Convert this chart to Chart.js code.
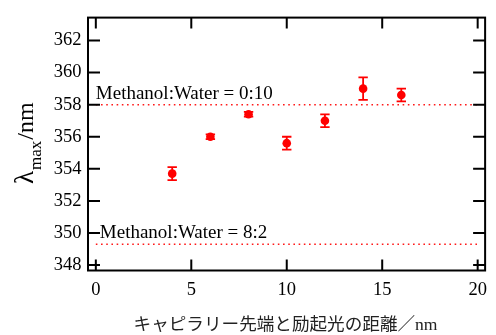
<!DOCTYPE html>
<html><head><meta charset="utf-8">
<script src="https://cdn.jsdelivr.net/npm/chart.js@4.4.0/dist/chart.umd.min.js"></script>
<style>html,body{margin:0;padding:0;background:#fff;overflow:hidden}#wrap{position:relative;width:496px;height:335px}</style>
</head><body><div id="wrap"><canvas id="c" width="496" height="335"></canvas></div>
<script>
const distances = [4, 6, 8, 10, 12, 14, 16];
const lambdaMax = [353.7, 356.0, 357.4, 355.6, 357.0, 359.0, 358.6];
const lambdaErr = [0.4, 0.15, 0.15, 0.4, 0.4, 0.7, 0.4];
const refValues = [358.0, 349.3];
const refLabels = ['Methanol:Water = 0:10', 'Methanol:Water = 8:2'];
const refRange = [0, 20];
const xTicks = [0, 5, 10, 15, 20];
const yTicks = [348, 350, 352, 354, 356, 358, 360, 362];
const xTitle = 'キャピラリー先端と励起光の距離／nm';
const yTitleParts = ['λ', 'max', '/nm'];

const SERIF = '"Liberation Serif", "Times New Roman", serif';
const RED = '#ff0000';

const refDatasets = refValues.map(v => ({
  type: 'line',
  data: refRange.map(x => ({x: x, y: v})),
  borderColor: 'rgba(255,0,0,0.9)',
  borderWidth: 1.6,
  borderDash: [1.6, 3.6],
  pointRadius: 0,
  fill: false,
  order: 2
}));

const custom = {
  id: 'custom',
  beforeDatasetsDraw(chart) {
    const ctx = chart.ctx, xs = chart.scales.x, ys = chart.scales.y;
    ctx.save();
    ctx.strokeStyle = RED;
    ctx.lineWidth = 1.8;
    distances.forEach((d, i) => {
      const px = xs.getPixelForValue(d);
      const y1 = ys.getPixelForValue(lambdaMax[i] - lambdaErr[i]);
      const y2 = ys.getPixelForValue(lambdaMax[i] + lambdaErr[i]);
      ctx.beginPath();
      ctx.moveTo(px, y1); ctx.lineTo(px, y2);
      ctx.moveTo(px - 4.7, y1); ctx.lineTo(px + 4.7, y1);
      ctx.moveTo(px - 4.7, y2); ctx.lineTo(px + 4.7, y2);
      ctx.stroke();
    });
    ctx.restore();
  },
  afterDraw(chart) {
    const ctx = chart.ctx, xs = chart.scales.x, ys = chart.scales.y;
    const a = chart.chartArea;
    ctx.save();
    // reference labels
    ctx.fillStyle = '#000';
    ctx.font = '19px ' + SERIF;
    ctx.textAlign = 'left';
    ctx.textBaseline = 'alphabetic';
    const lblDx = [0, 4], lblDy = [5.5, 6.5];
    refLabels.forEach((t, i) => {
      ctx.fillText(t, xs.getPixelForValue(refRange[0]) + lblDx[i], ys.getPixelForValue(refValues[i]) - lblDy[i]);
    });
    // frame
    ctx.strokeStyle = '#000';
    ctx.lineWidth = 2;
    ctx.strokeRect(a.left, a.top, a.right - a.left, a.bottom - a.top);
    // inward ticks
    ctx.beginPath();
    xTicks.forEach(v => {
      const px = xs.getPixelForValue(v);
      ctx.moveTo(px, a.bottom); ctx.lineTo(px, a.bottom - 11);
      ctx.moveTo(px, a.top); ctx.lineTo(px, a.top + 11);
    });
    yTicks.forEach(v => {
      const py = ys.getPixelForValue(v);
      ctx.moveTo(a.left, py); ctx.lineTo(a.left + 12, py);
      ctx.moveTo(a.right, py); ctx.lineTo(a.right - 12, py);
    });
    ctx.stroke();
    // x title
    ctx.fillStyle = '#222';
    ctx.font = '17.6px "Liberation Serif", "Noto Sans CJK JP", sans-serif';
    ctx.textAlign = 'center';
    ctx.textBaseline = 'middle';
    ctx.fillText(xTitle, (a.left + a.right) / 2 - 1, 325.5);
    // y title (rotated, with subscript)
    ctx.fillStyle = '#000';
    ctx.translate(33, 184);
    ctx.rotate(-Math.PI / 2);
    ctx.textAlign = 'left';
    ctx.textBaseline = 'alphabetic';
    let xo = 0;
    ctx.font = '27px ' + SERIF;
    ctx.fillText(yTitleParts[0], xo, 0);
    xo += ctx.measureText(yTitleParts[0]).width + 1;
    ctx.font = '17px ' + SERIF;
    ctx.fillText(yTitleParts[1], xo, 8);
    xo += ctx.measureText(yTitleParts[1]).width + 1;
    ctx.font = '24px ' + SERIF;
    ctx.fillText(yTitleParts[2], xo, 0);
    ctx.restore();
  }
};

new Chart(document.getElementById('c'), {
  type: 'scatter',
  data: {
    datasets: [{
      data: distances.map((d, i) => ({x: d, y: lambdaMax[i]})),
      backgroundColor: RED,
      borderColor: RED,
      borderWidth: 0,
      pointRadius: 4.3,
      pointHoverRadius: 4.3,
      order: 1
    }].concat(refDatasets)
  },
  options: {
    responsive: false,
    animation: false,
    devicePixelRatio: 1,
    events: [],
    layout: {padding: {top: 14, right: 3.5, left: 0, bottom: 0}},
    plugins: {legend: {display: false}, tooltip: {enabled: false}},
    scales: {
      x: {
        type: 'linear', min: -0.41, max: 20.39,
        afterBuildTicks: s => { s.ticks = xTicks.map(v => ({value: v})); },
        afterFit: s => { s.height = 64.5; },
        grid: {display: false, drawTicks: false},
        border: {display: false},
        ticks: {color: '#000', font: {family: SERIF, size: 18.5}, padding: 9, maxRotation: 0, autoSkip: false}
      },
      y: {
        type: 'linear', min: 347.66, max: 363.43,
        afterBuildTicks: s => { s.ticks = yTicks.map(v => ({value: v})); },
        afterFit: s => { s.width = 88; },
        grid: {display: false, drawTicks: false},
        border: {display: false},
        ticks: {color: '#000', font: {family: SERIF, size: 18.5}, padding: 6.5, autoSkip: false}
      }
    }
  },
  plugins: [custom]
});
</script></body></html>
